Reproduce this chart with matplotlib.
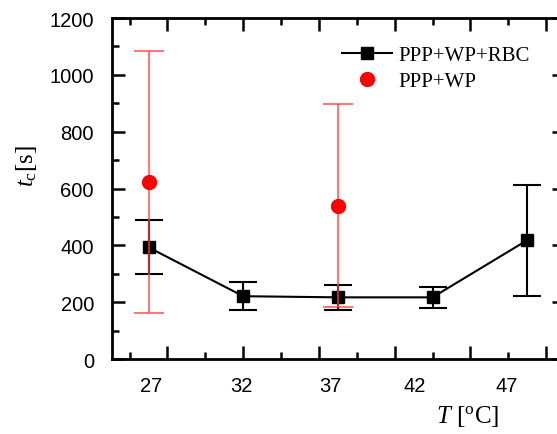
import matplotlib
matplotlib.use("Agg")
import matplotlib.pyplot as plt
from matplotlib.ticker import MultipleLocator, NullFormatter
from matplotlib.lines import Line2D

plt.rcParams['mathtext.fontset'] = 'custom'
plt.rcParams['mathtext.rm'] = 'Liberation Serif'
plt.rcParams['mathtext.it'] = 'Liberation Serif:italic'
plt.rcParams['font.family'] = ['Liberation Sans', 'DejaVu Sans']

# Data
temps = [27, 32, 37, 42, 47]
rbc_tc = [393, 221, 217, 217, 418]
rbc_err = [95, 50, 45, 38, 195]

wp_temps = [27, 37]
wp_tc = [623, 540]
wp_err = [462, 358]

xtick_label_pos = [27.16, 31.92, 36.63, 41.07, 45.91]
xtick_labels = ["27", "32", "37", "42", "47"]

fig = plt.figure(figsize=(5.57, 4.35), dpi=100)
ax = fig.add_axes([0.2011, 0.1724, 0.8133, 0.7839])

ax.errorbar(temps, rbc_tc, yerr=rbc_err, color='black', marker='s', markersize=9,
            linewidth=1.5, elinewidth=1.5, capsize=10, capthick=1.5, zorder=3)
ax.errorbar(wp_temps, wp_tc, yerr=wp_err, fmt='none', ecolor=(1.0, 0.25, 0.25, 0.7),
            elinewidth=1.5, capsize=11, capthick=1.5, zorder=4)
ax.plot(wp_temps, wp_tc, linestyle='none', marker='o', color='red', markersize=10,
        zorder=5)

ax.set_xlim(25.07, 49.0)
ax.set_ylim(0, 1200)
ax.set_xticks([28, 32, 36, 40, 44, 48])
ax.xaxis.set_minor_locator(MultipleLocator(2))
ax.xaxis.set_major_formatter(NullFormatter())
ax.yaxis.set_major_locator(MultipleLocator(200))
ax.yaxis.set_minor_locator(MultipleLocator(100))

ax.tick_params(which='both', direction='in', top=True, right=True, width=1.8)
ax.tick_params(which='major', length=9.5)
ax.tick_params(which='minor', length=5)
ax.tick_params(axis='y', labelsize=14.5, pad=13)
for s in ax.spines.values():
    s.set_linewidth(2)

sec = ax.secondary_xaxis('bottom')
sec.set_xticks(xtick_label_pos, xtick_labels)
sec.tick_params(length=0, labelsize=14.5, pad=12)
sec.spines['bottom'].set_visible(False)

ax.set_ylabel(r'$\mathit{t}_{\mathrm{c}}$[s]', fontsize=18, family='Liberation Serif')
ax.yaxis.set_label_coords(-0.162, 0.57)
ax.text(0.785, -0.185, r'$\mathit{T}$ [$^{\mathrm{o}}$C]', transform=ax.transAxes,
        fontsize=18, family='Liberation Serif', ha='center', va='baseline')

handles = [
    Line2D([], [], color='black', marker='s', markersize=9, linewidth=1.5),
    Line2D([], [], color='red', marker='o', markersize=10, linestyle='none'),
]
leg = ax.legend(handles, ['PPP+WP+RBC', 'PPP+WP'], loc='upper left',
                bbox_to_anchor=(0.475, 0.962), frameon=False,
                prop={'family': 'Liberation Serif', 'size': 15}, handlelength=2.4,
                handletextpad=0.3, labelspacing=0.3, borderpad=0.2)

fig.savefig('out.png', dpi=100)
